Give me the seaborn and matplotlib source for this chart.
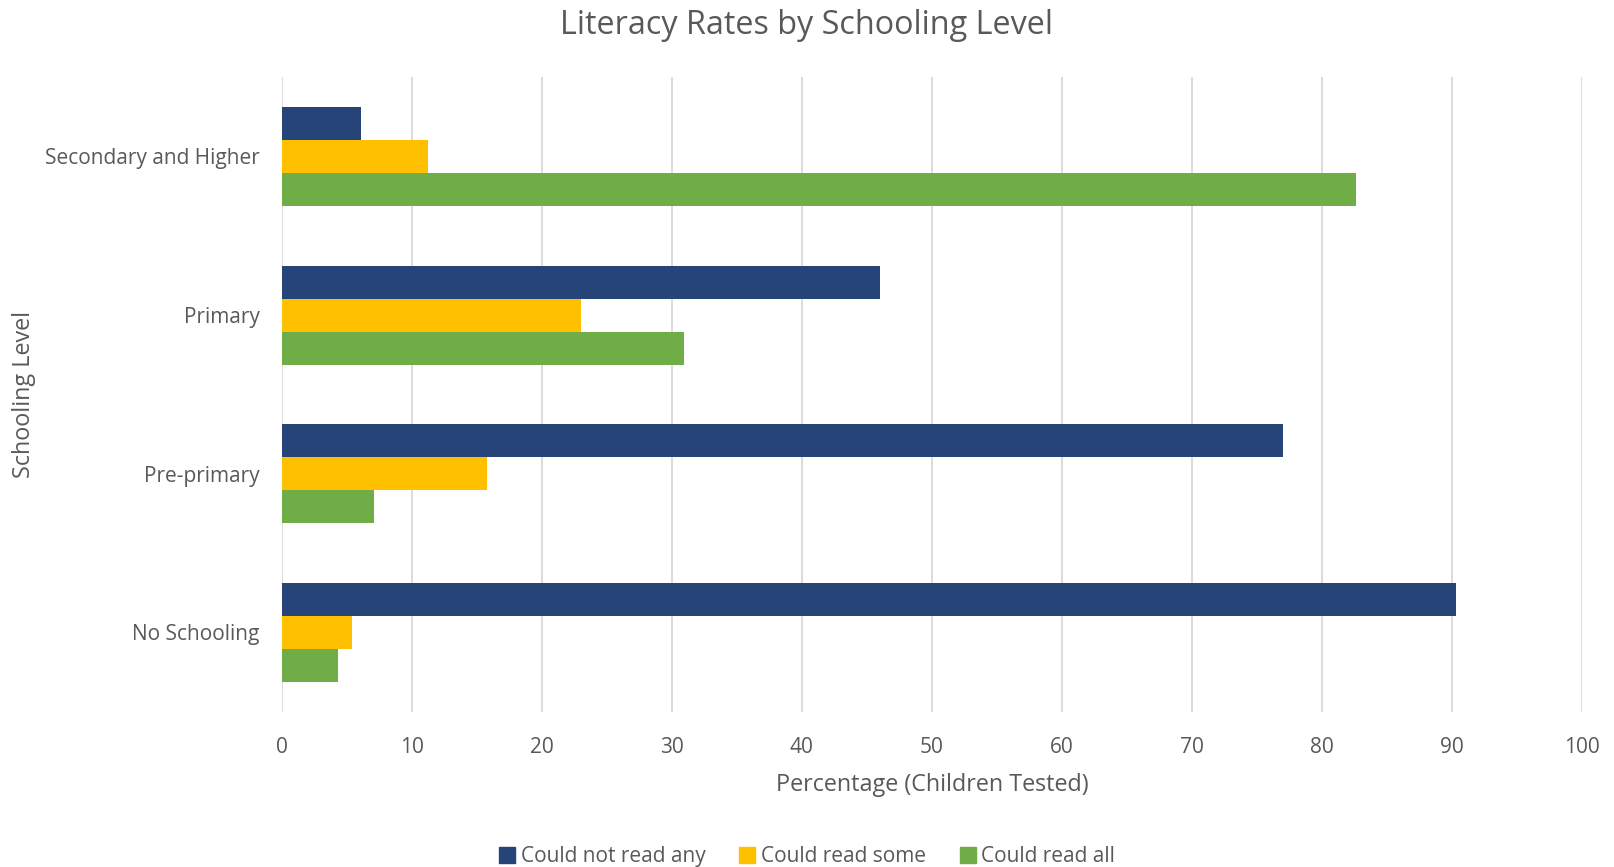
import matplotlib
matplotlib.use("Agg")
import matplotlib.pyplot as plt
from matplotlib.lines import Line2D
import seaborn as sns
import pandas as pd

# Schooling levels, top to bottom
levels = ["Secondary and Higher", "Primary", "Pre-primary", "No Schooling"]
series = ["Could not read any", "Could read some", "Could read all"]

could_not_read_any = [6.1, 46.0, 77.0, 90.3]
could_read_some = [11.2, 23.0, 15.8, 5.4]
could_read_all = [82.6, 30.9, 7.1, 4.3]

x_ticks = [0, 10, 20, 30, 40, 50, 60, 70, 80, 90, 100]

colors = ["#264478", "#FFC000", "#70AD47"]
text_color = "#595959"
grid_color = "#D9D9D9"

rows = []
for name, vals in zip(series, [could_not_read_any, could_read_some, could_read_all]):
    for lvl, v in zip(levels, vals):
        rows.append({"Schooling Level": lvl, "Result": name, "Percentage": v})
df = pd.DataFrame(rows)

sns.set_theme(style="white")
plt.rcParams["font.family"] = ["Open Sans", "DejaVu Sans"]

fig = plt.figure(figsize=(16.14, 8.67), dpi=100)
ax = fig.add_axes([0.1747, 0.179, 0.8053, 0.732])

sns.barplot(data=df, y="Schooling Level", x="Percentage", hue="Result",
            order=levels, hue_order=series, palette=colors, orient="h",
            width=0.625, linewidth=0, saturation=1, ax=ax, legend=False)

ax.set_xlim(0, 100)
ax.set_xticks(x_ticks)
ax.set_ylim(3.5, -0.5)
ax.grid(axis="x", color=grid_color, linewidth=1.3)
ax.grid(axis="y", visible=False)
ax.set_axisbelow(True)
for s in ax.spines.values():
    s.set_visible(False)
ax.tick_params(axis="both", length=0, labelsize=15, colors=text_color)
ax.tick_params(axis="x", pad=18)
ax.tick_params(axis="y", pad=16)

ax.set_xlabel("Percentage (Children Tested)", fontsize=16.8, color=text_color, labelpad=11)
ax.set_ylabel("Schooling Level", fontsize=16.8, color=text_color)
ax.yaxis.set_label_coords(-0.189, 0.5)

fig.suptitle("Literacy Rates by Schooling Level", fontsize=23.3, color=text_color, y=0.99)

handles = [Line2D([0], [0], marker="s", linestyle="", markersize=11,
                  markerfacecolor=c, markeredgecolor=c) for c in colors]
fig.legend(handles, series, loc="center", bbox_to_anchor=(0.5, 0.012), ncol=3,
           frameon=False, fontsize=15, labelcolor=text_color,
           handlelength=0.8, handletextpad=0.25, columnspacing=1.6)

fig.savefig("out.png", dpi=100)
